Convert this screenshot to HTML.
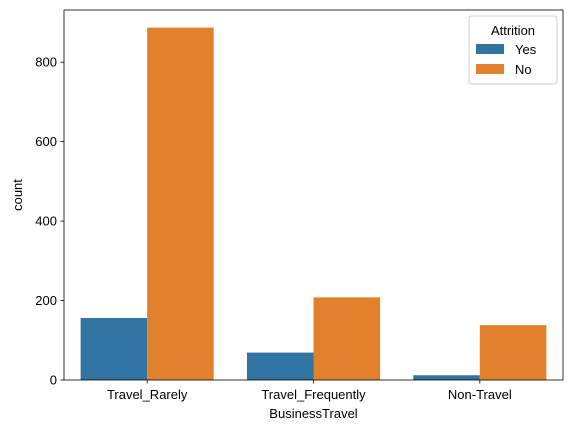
<!DOCTYPE html>
<html><head><meta charset="utf-8"><style>
body{margin:0;background:#fff;}
svg text{font-family:"Liberation Sans",sans-serif;fill:#000;}
</style></head><body>
<svg id="chart" width="571" height="433">
<g id="bars"></g>
<g id="axes"></g>
</svg>
<script>
const categories=["Travel_Rarely","Travel_Frequently","Non-Travel"];
const yesValues=[156,69,12];
const noValues=[887,208,138];
const yTicks=[0,200,400,600,800];
const seriesNames=["Yes","No"];
const colors=["#3274a1","#e1812c"];

const L=64,R=563,T=10,B=380;
const ymax=Math.max(...noValues,...yesValues)*1.05;
const y=v=>B-(v/ymax)*(B-T);
const x=i=>L+(i+0.5-0)*(R-L)/3 - 0;
const unit=(R-L)/3;
const NS="http://www.w3.org/2000/svg";
function mk(t,a,p){const e=document.createElementNS(NS,t);for(const k in a)e.setAttribute(k,a[k]);p.appendChild(e);return e;}
const bars=document.getElementById('bars'),axes=document.getElementById('axes');
[yesValues,noValues].forEach((vals,s)=>{
 vals.forEach((v,i)=>{
  const cx=x(i), w=0.4*unit;
  const r=mk('rect',{x:cx-0.4*unit+s*w,y:y(v),width:w,height:B-y(v),fill:colors[s]},bars);
  
  
 });
});
const frame=mk('rect',{x:L,y:T,width:R-L,height:B-T,fill:'none',stroke:'#000','stroke-width':0.8},axes);


yTicks.forEach(t=>{
 mk('line',{x1:L-3.5,x2:L,y1:y(t),y2:y(t),stroke:'#000','stroke-width':0.8},axes);
 const tx=mk('text',{x:L-7,y:y(t)+4.5,'text-anchor':'end','font-size':13},axes);
 tx.textContent=t;
 
 
});
categories.forEach((c,i)=>{
 mk('line',{x1:x(i),x2:x(i),y1:B,y2:B+3.5,stroke:'#000','stroke-width':0.8},axes);
 const tx=mk('text',{x:x(i),y:B+19,'text-anchor':'middle','font-size':13},axes);
 tx.textContent=c;
 
 
});
const xt=mk('text',{x:(L+R)/2,y:418,'text-anchor':'middle','font-size':13},axes);
xt.textContent='BusinessTravel';


const yt=mk('text',{x:0,y:0,'text-anchor':'middle','font-size':13,transform:`translate(22,${(T+B)/2}) rotate(-90)`},axes);
yt.textContent='count';


const lg=mk('g',{},axes);


mk('rect',{x:469,y:16,width:88,height:68,rx:3,fill:'#fff','fill-opacity':0.8,stroke:'#ccc'},lg);
const lt=mk('text',{x:513,y:35,'text-anchor':'middle','font-size':13},lg);
lt.textContent='Attrition';
seriesNames.forEach((n,s)=>{
 const e=mk('g',{},lg);
 
 
 mk('rect',{x:476,y:44+s*20,width:28,height:10,fill:colors[s]},e);
 const t=mk('text',{x:515,y:54+s*20,'font-size':13},e);
 t.textContent=n;
});
</script>
</body></html>
